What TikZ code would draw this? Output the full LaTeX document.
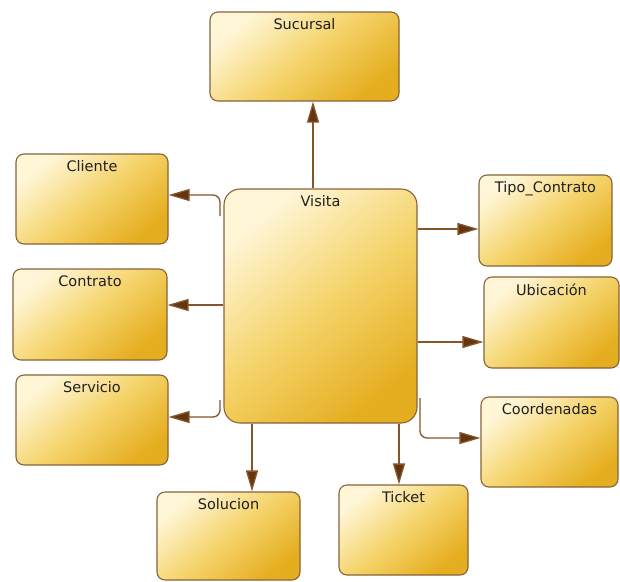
\documentclass[tikz,border=0pt]{standalone}
\usepackage{fontspec}
\setmainfont{DejaVu Sans}
\usetikzlibrary{arrows.meta}
\definecolor{boxlight}{HTML}{FFF6D8}
\definecolor{boxmid}{HTML}{F5D46C}
\definecolor{boxdark}{HTML}{E5AE20}
\definecolor{boxedge}{HTML}{86643A}
\definecolor{linkcol}{HTML}{85562A}
\definecolor{tipcol}{HTML}{64350E}
\tikzset{
  entity/.style={draw=boxedge, line width=1.1pt, rounded corners=8pt,
    top color=boxlight, bottom color=boxdark, middle color=boxmid,
    shading angle=40, inner sep=0pt},
  bigentity/.style={entity, rounded corners=16pt},
  title/.style={font=\fontsize{14.5}{16}\selectfont, text=black!88, anchor=north, inner sep=0pt},
  link/.style={draw=linkcol, line width=1.3pt, rounded corners=7pt,
    -{Triangle[length=21pt,width=12pt,fill=tipcol]}}
}
% \entitybox{name}{style}{x1}{y1}{x2}{y2}{title}
\newcommand\entitybox[7]{%
  \node[#2, minimum width={(#5-#3)*1pt}, minimum height={(#6-#4)*1pt}]
    (#1) at ({(#3+#5)/2},{(#4+#6)/2}) {};
  \node[title] (#1-t) at ({(#3+#5)/2},{#4+6.5}) {#7};
}
\begin{document}
\begin{tikzpicture}[x=1pt,y=-1pt]
\useasboundingbox (0,0) rectangle (620,581);
\fill[white] (0,0) rectangle (620,581);

\entitybox{sucursal}{entity}{210}{12}{399}{101}{Sucursal}
\entitybox{visita}{bigentity}{224}{189}{417}{423}{Visita}
\entitybox{cliente}{entity}{16}{154}{168}{244}{Cliente}
\entitybox{contrato}{entity}{13}{269}{167}{360}{Contrato}
\entitybox{servicio}{entity}{16}{375}{168}{465}{Servicio}
\entitybox{tipo}{entity}{479}{175}{612}{266}{Tipo\_Contrato}
\entitybox{ubicacion}{entity}{484}{277}{619}{368}{Ubicación}
\entitybox{coord}{entity}{481}{397}{618}{487}{Coordenadas}
\entitybox{solucion}{entity}{157}{492}{300}{580}{Solucion}
\entitybox{ticket}{entity}{339}{485}{468}{575}{Ticket}

% free ends of the bent connectors, beside the Visita border
\coordinate (cliStart) at (220,216);
\coordinate (serStart) at (220,400);
\coordinate (cooStart) at (420,398);

\draw[link] (visita.north -| 313,0) -- (sucursal.south -| 313,0);
\draw[link] (cliStart) |- (cliente.east |- 0,195);
\draw[link] (visita.west |- 0,305) -- (contrato.east |- 0,305);
\draw[link] (serStart) |- (servicio.east |- 0,417);
\draw[link] (visita.east |- 0,229) -- (tipo.west |- 0,229);
\draw[link] (visita.east |- 0,342) -- (ubicacion.west |- 0,342);
\draw[link] (cooStart) |- (coord.west |- 0,438);
\draw[link] (visita.south -| 252,0) -- (solucion.north -| 252,0);
\draw[link] (visita.south -| 399,0) -- (ticket.north -| 399,0);
\end{tikzpicture}
\end{document}
